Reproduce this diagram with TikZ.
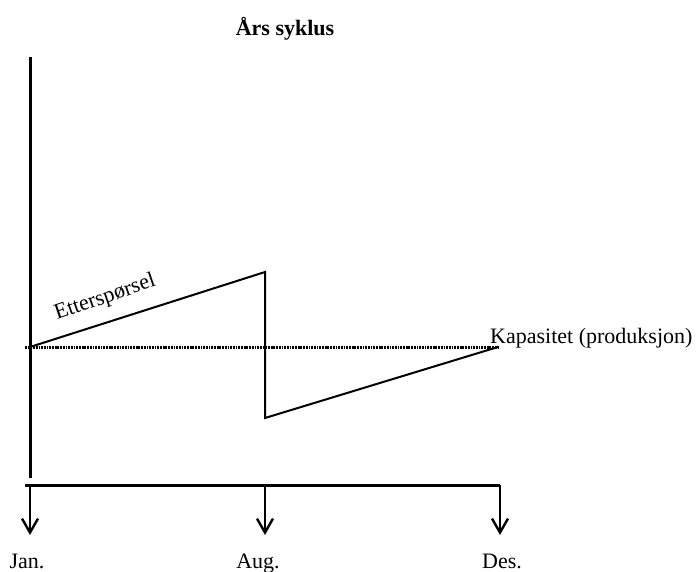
\documentclass[tikz,border=0pt]{standalone}
\usepackage{fontspec}
\setmainfont{Liberation Serif}
\usetikzlibrary{arrows.meta}
\begin{document}
\begin{tikzpicture}[x=1pt,y=-1pt,
  lbl/.style={font=\fontsize{22}{24}\selectfont, inner sep=0pt},
  axisline/.style={line width=3pt},
  demand/.style={line width=2pt, line join=miter},
  capline/.style={line width=3pt, dash pattern=on 1.8pt off 0.9pt},
  tickarrow/.style={line width=2.4pt, -{Straight Barb[length=14pt,width=16pt,line width=2.4pt]}}]
\useasboundingbox (0,0) rectangle (699,571);
% title
\node[lbl, font=\fontsize{22}{24}\selectfont\bfseries, anchor=base] (title) at (285,35) {Års syklus};
% vertical axis
\coordinate (vtop) at (30,57);
\coordinate (vbot) at (30,478);
\draw[axisline] (vtop) -- (vbot);
% capacity (dotted)
\coordinate (c0) at (25,347);
\coordinate (c1) at (498,347);
\draw[capline] (c0) -- (c1);
% demand
\coordinate (d0) at (30,347);
\coordinate (d1) at (265,272);
\coordinate (d2) at (265,418);
\coordinate (d3) at (498,347);
\draw[demand] (d0) -- (d1) -- (d2) -- (d3);
\node[lbl, anchor=base west, rotate=19] (dem) at (57,320) {Etterspørsel};
\node[lbl, anchor=base west] (kap) at (490,343) {Kapasitet (produksjon)};
% time bar
\coordinate (b0) at (25,485);
\coordinate (bj) at (30,485);
\coordinate (ba) at (265,485);
\coordinate (bd) at (500,485);
\draw[axisline] (b0) -- (bd);
\coordinate (tj) at (30,535);
\coordinate (ta) at (265,535);
\coordinate (td) at (500,535);
\draw[tickarrow] (bj) -- (tj);
\draw[tickarrow] (ba) -- (ta);
\draw[tickarrow] (bd) -- (td);
\node[lbl, anchor=base] (jan) at (27,568) {Jan.};
\node[lbl, anchor=base] (aug) at (258,568) {Aug.};
\node[lbl, anchor=base] (des) at (502,568) {Des.};
\end{tikzpicture}
\end{document}
